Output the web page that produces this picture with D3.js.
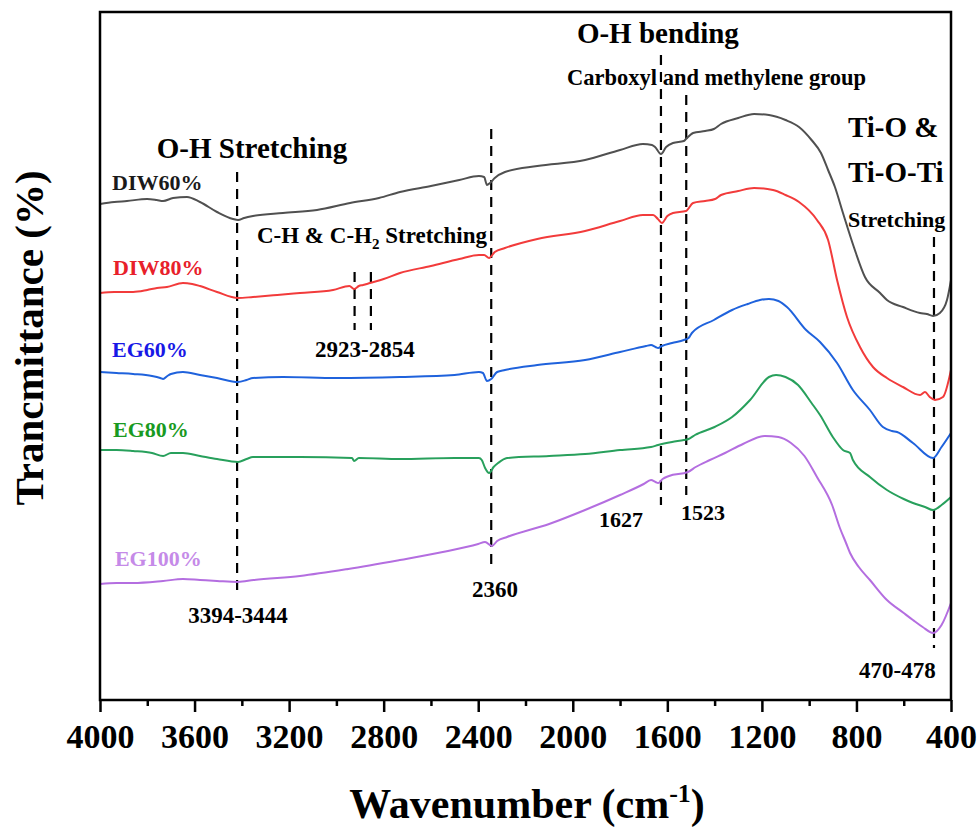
<!DOCTYPE html>
<html>
  <head>
    <style media="screen">
      body { margin: 0; background: #fff; }
      svg { display: block; font-family: "Liberation Serif", "Times New Roman", serif; font-weight: bold; }
    </style>
  </head>
  <body>
    <svg></svg>
    <script src="https://d3js.org/d3.v7.min.js"></script>
    <script type="text/javascript">

      // wavenumber (cm-1), transmittance (a.u., curves offset as in the figure)
      var diw60 = [[4000,496],[3940,498],[3886,499],[3801,501],[3760,500],[3733,499],[3691,502],[3632,503],[3577,498],[3505,488],[3437,481],[3416,480],[3390,482],[3353,484],[3226,487],[3082,490],[2942,497],[2820,502],[2731,508],[2600,514],[2480,520],[2397,524],[2375,523],[2363,515],[2350,517],[2330,522],[2287,528],[2150,534],[1948,540],[1800,550],[1703,556],[1665,555],[1652,553],[1627,546],[1605,553],[1576,557],[1530,559],[1521,561],[1491,567],[1440,569],[1403,571],[1373,576],[1300,582],[1233,586],[1170,585],[1100,580],[1043,573],[990,560],[950,547],[920,530],[891,513],[857,487],[811,453],[764,423],[700,407],[671,400],[603,393],[531,387],[502,386],[476,384],[447,387],[417,400],[400,420]]

      var diw80 = [[4000,407],[3940,408],[3860,408],[3800,410],[3759,412],[3717,413],[3649,417],[3610,416],[3577,414],[3505,408],[3416,402],[3353,403],[3250,405],[3154,407],[3014,410],[2945,414],[2925,411],[2905,414],[2887,415],[2858,417],[2800,421],[2731,427],[2600,434],[2480,441],[2397,445],[2375,445],[2354,442],[2330,448],[2287,452],[2150,461],[1948,469],[1800,479],[1703,485],[1660,485],[1640,481],[1623,477],[1600,484],[1576,487],[1521,489],[1491,497],[1440,499],[1398,501],[1373,505],[1300,509],[1233,512],[1153,510],[1100,505],[1043,498],[967,480],[920,460],[882,420],[840,383],[785,353],[730,333],[671,322],[603,313],[531,305],[510,308],[490,303],[468,300],[434,303],[400,330]]

      var eg60 = [[4000,328],[3930,327],[3860,326],[3780,324],[3745,322],[3733,321],[3715,324],[3700,326],[3649,328],[3577,325],[3505,322],[3416,318],[3380,320],[3353,322],[3226,323],[3000,322],[2731,323],[2500,325],[2397,328],[2380,327],[2363,319],[2345,321],[2320,328],[2287,330],[2150,335],[1948,340],[1800,348],[1690,354],[1669,355],[1650,353],[1639,352],[1623,354],[1580,357],[1530,360],[1510,362],[1496,367],[1403,380],[1326,390],[1260,396],[1208,400],[1170,401],[1130,399],[1094,393],[1013,370],[954,358],[882,337],[815,310],[743,290],[688,273],[650,269],[628,268],[561,257],[476,242],[440,253],[400,267]]

      var eg80 = [[4000,250],[3930,250],[3860,249],[3780,247],[3733,244],[3700,247],[3649,247],[3577,244],[3505,241],[3416,238],[3380,241],[3353,243],[3154,243],[2934,242],[2925,239],[2905,242],[2731,241],[2500,242],[2397,242],[2385,240],[2371,232],[2354,227],[2335,233],[2316,237],[2278,242],[2100,244],[1948,246],[1800,250],[1669,253],[1639,255],[1580,258],[1530,260],[1510,261],[1483,265],[1400,273],[1326,283],[1250,300],[1170,323],[1140,325],[1100,323],[1047,315],[990,297],[954,285],[900,263],[857,250],[827,247],[815,240],[743,223],[671,210],[600,201],[561,197],[510,193],[476,190],[440,195],[400,203]]

      var eg100 = [[4000,116],[3930,117],[3860,117],[3733,119],[3649,121],[3577,120],[3505,119],[3416,118],[3350,120],[3154,124],[2950,131],[2731,140],[2550,148],[2400,156],[2371,158],[2342,154],[2320,159],[2278,163],[2100,176],[1948,190],[1800,205],[1700,216],[1669,220],[1650,218],[1639,217],[1620,221],[1593,224],[1513,228],[1480,233],[1420,240],[1356,247],[1280,256],[1187,264],[1130,263],[1077,257],[1020,244],[967,223],[903,195],[870,172],[844,157],[827,147],[790,133],[743,120],[671,100],[600,87],[561,80],[520,73],[476,67],[440,75],[400,97]]

      var seriesNames = ["DIW60%", "DIW80%", "EG60%", "EG80%", "EG100%"]
      var seriesData = [diw60, diw80, eg60, eg80, eg100]
      var lineColors = ["#505050", "#f23b3b", "#1f62dc", "#28a05c", "#b46ee0"]
      var nameColors = ["#1a1a1a", "#e8202a", "#1818e6", "#189a22", "#c58ae8"]

      var xTicks = [4000, 3600, 3200, 2800, 2400, 2000, 1600, 1200, 800, 400]
      var xMinor = [3800, 3400, 3000, 2600, 2200, 1800, 1400, 1000, 600]

      // band positions marked with dashed lines: [wavenumber, top, bottom] in a.u.
      var markers = [[3420, 528, 103], [2923, 428, 370], [2854, 428, 370], [2345, 571, 133],
                     [1627, 645, 195], [1520, 605, 205], [472, 463, 52]]

      var svgWidth = 979, svgHeight = 828
      var margin = { top: 12, right: 28, bottom: 128, left: 100 }
      var width = svgWidth - margin.left - margin.right
      var height = svgHeight - margin.top - margin.bottom

      var svg = d3.select("svg")
        .attr("width", svgWidth)
        .attr("height", svgHeight)

      var g = svg.append("g")
        .attr("transform", "translate(" + margin.left + "," + margin.top + ")")

      var x = d3.scaleLinear().domain([4000, 400]).range([0, width])
      var y = d3.scaleLinear().domain([0, 688]).range([height, 0])

      var line = d3.line()
        .x(d => x(d[0]))
        .y(d => y(d[1]))
        .curve(d3.curveMonotoneX)

      // dashed guide lines
      g.selectAll(".marker")
        .data(markers)
        .enter().append("line")
        .attr("x1", d => x(d[0])).attr("x2", d => x(d[0]))
        .attr("y1", d => y(d[1])).attr("y2", d => y(d[2]))
        .attr("stroke", "#000")
        .attr("stroke-width", 2.2)
        .attr("stroke-dasharray", "10,7")

      g.selectAll(".spectrum")
        .data(seriesData)
        .enter().append("path")
        .attr("d", d => line(d))
        .attr("fill", "none")
        .attr("stroke", (d, i) => lineColors[i])
        .attr("stroke-width", 2)

      // frame + bottom axis
      g.append("rect")
        .attr("width", width).attr("height", height)
        .attr("fill", "none").attr("stroke", "#000").attr("stroke-width", 2.5)

      var axis = g.append("g")
        .attr("transform", "translate(0," + height + ")")
        .call(d3.axisBottom(x).tickValues(xTicks).tickSize(12).tickPadding(12).tickFormat(d3.format("d")))
      axis.select(".domain").remove()
      axis.selectAll("line").attr("stroke-width", 2.5)
      axis.selectAll("text")
        .attr("font-family", "Liberation Serif, Times New Roman, serif")
        .attr("font-weight", "bold")
        .attr("font-size", 34)
        .attr("fill", "#000")

      g.append("g")
        .attr("transform", "translate(0," + height + ")")
        .call(d3.axisBottom(x).tickValues(xMinor).tickSize(6).tickFormat(""))
        .call(a => a.select(".domain").remove())
        .selectAll("line").attr("stroke-width", 2.5)

      var xLabel = svg.append("text")
        .attr("x", 527).attr("y", 818)
        .attr("text-anchor", "middle")
        .attr("font-size", 42)
      xLabel.append("tspan").text("Wavenumber (cm")
      xLabel.append("tspan").text("-1").attr("font-size", 26).attr("dy", -16)
      xLabel.append("tspan").text(")").attr("dy", 16)

      svg.append("text")
        .attr("transform", "translate(43,338) rotate(-90)")
        .attr("text-anchor", "middle")
        .attr("font-size", 41)
        .text("Trancmittance (%)")

      // series names
      var nameSpots = [[3949, 510], [3945, 425], [3949, 343], [3945, 263], [3937, 134]]
      g.selectAll(".name")
        .data(seriesNames)
        .enter().append("text")
        .attr("x", (d, i) => x(nameSpots[i][0]))
        .attr("y", (d, i) => y(nameSpots[i][1]))
        .attr("font-size", 22)
        .attr("fill", (d, i) => nameColors[i])
        .text(d => d)

      // band annotations: [text, wavenumber, a.u., size, anchor]
      var notes = [
        ["O-H Stretching", 3357, 542, 29, "middle"],
        ["2923-2854", 3090, 343, 23, "start"],
        ["3394-3444", 3416, 77, 23, "middle"],
        ["2360", 2329, 103, 23, "middle"],
        ["1627", 1889, 173, 22, "start"],
        ["1523", 1542, 180, 22, "start"],
        ["470-478", 789, 22, 23, "start"],
        ["O-H bending", 1640, 657, 29, "middle"],
        ["Carboxyl and methylene group", 2024, 615, 22.5, "start"],
        ["Ti-O &", 836, 563, 29, "start"],
        ["Ti-O-Ti", 836, 518, 29, "start"],
        ["Stretching", 836, 473, 22, "start"]
      ]
      g.selectAll(".note")
        .data(notes)
        .enter().append("text")
        .attr("x", d => x(d[1]))
        .attr("y", d => y(d[2]))
        .attr("font-size", d => d[3])
        .attr("text-anchor", d => d[4])
        .attr("fill", "#000")
        .text(d => d[0])

      var ch = g.append("text")
        .attr("x", x(3336)).attr("y", y(457))
        .attr("font-size", 23)
      ch.append("tspan").text("C-H & C-H")
      ch.append("tspan").text("2").attr("font-size", 15).attr("dy", 6)
      ch.append("tspan").text(" Stretching").attr("dy", -6)

    </script>
  </body>
</html>
